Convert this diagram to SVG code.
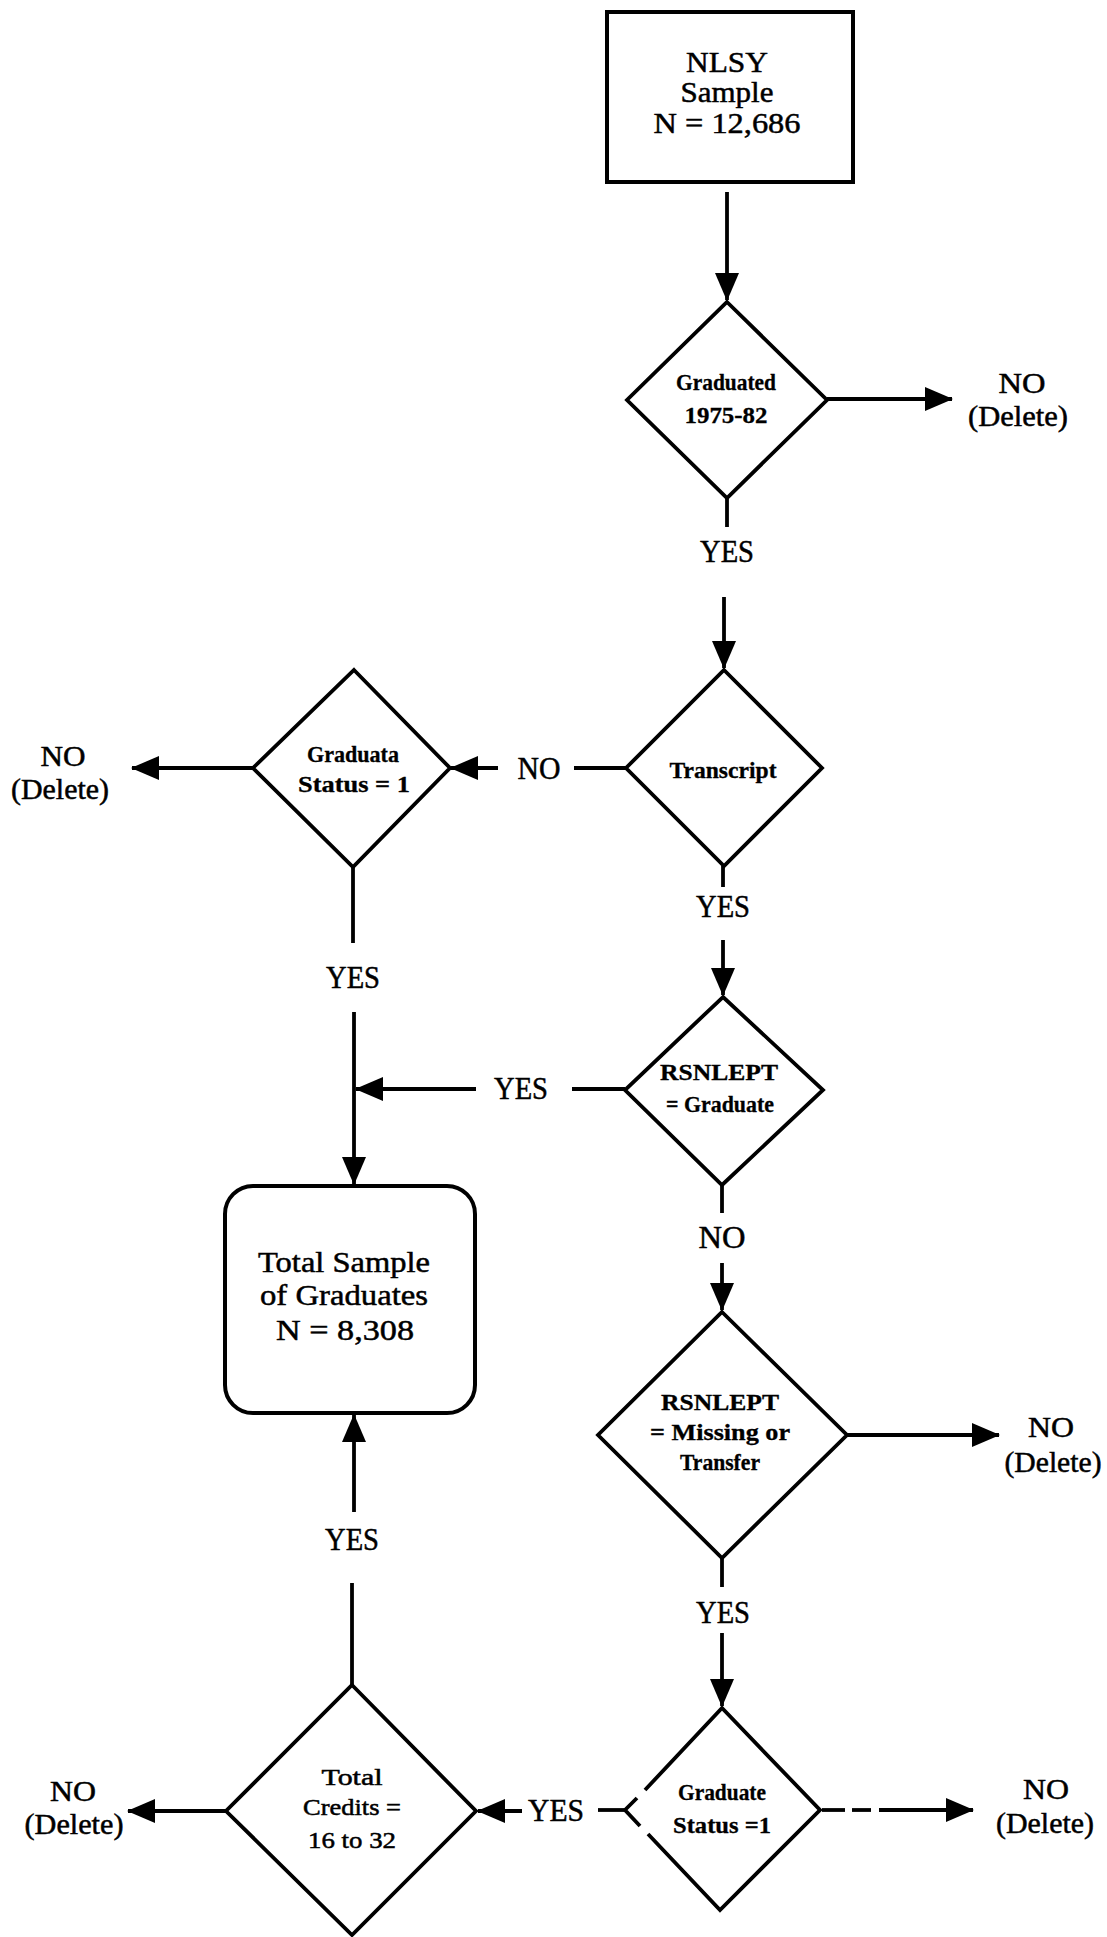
<svg xmlns="http://www.w3.org/2000/svg" width="1107" height="1937" viewBox="0 0 1107 1937">
<style>
  .shape { fill: #ffffff; stroke: #000000; stroke-width: 3.8; stroke-linejoin: miter; }
  .box { fill: #ffffff; stroke: #000000; stroke-width: 4; }
  .ln { fill: none; stroke: #000000; stroke-width: 3.8; }
  .arr { fill: none; stroke: #000000; stroke-width: 3.8; marker-end: url(#ah); }
  text { font-family: "Liberation Serif", "Times New Roman", serif; fill: #000000; text-anchor: middle; stroke: #000000; stroke-width: 0.5; }
  .lbl { font-size: 31px; }
  .del { font-size: 29px; }
  .boxt { font-size: 30px; }
  .dt { font-size: 23px; font-weight: bold; stroke-width: 0.3; }
  .dn { font-size: 23px; }
</style>
<defs>
  <marker id="ah" markerUnits="userSpaceOnUse" markerWidth="28" markerHeight="24" refX="27" refY="12" orient="auto">
    <path d="M0,0 L28,12 L0,24 Z" fill="#000000"/>
  </marker>
</defs>
<rect width="1107" height="1937" fill="#ffffff"/>

<g id="connectors">
  <line class="arr" x1="727" y1="192" x2="727" y2="300"/>
  <line class="arr" x1="827" y1="399" x2="952" y2="399"/>
  <line class="ln" x1="727" y1="498" x2="727" y2="527"/>
  <line class="arr" x1="724" y1="597" x2="724" y2="668"/>
  <line class="ln" x1="723" y1="866" x2="723" y2="887"/>
  <line class="arr" x1="723" y1="940" x2="723" y2="995"/>
  <line class="ln" x1="626" y1="768" x2="574" y2="768"/>
  <line class="arr" x1="498" y1="768" x2="451" y2="768"/>
  <line class="arr" x1="253" y1="768" x2="132" y2="768"/>
  <line class="ln" x1="353" y1="867" x2="353" y2="943"/>
  <line class="arr" x1="354" y1="1012" x2="354" y2="1184"/>
  <line class="ln" x1="625" y1="1089" x2="572" y2="1089"/>
  <line class="arr" x1="476" y1="1089" x2="356" y2="1089"/>
  <line class="ln" x1="722" y1="1185" x2="722" y2="1213"/>
  <line class="arr" x1="722" y1="1263" x2="722" y2="1310"/>
  <line class="arr" x1="847" y1="1435" x2="999" y2="1435"/>
  <line class="ln" x1="722" y1="1558" x2="722" y2="1587"/>
  <line class="arr" x1="722" y1="1633" x2="722" y2="1706"/>
  <line class="ln" x1="822" y1="1810" x2="845" y2="1810"/>
  <line class="ln" x1="852" y1="1810" x2="871" y2="1810"/>
  <line class="arr" x1="879" y1="1810" x2="973" y2="1810"/>
  <line class="ln" x1="625" y1="1810" x2="598" y2="1810"/>
  <line class="arr" x1="522" y1="1811" x2="478" y2="1811"/>
  <line class="arr" x1="226" y1="1811" x2="128" y2="1811"/>
  <line class="ln" x1="352" y1="1685" x2="352" y2="1583"/>
  <line class="arr" x1="354" y1="1512" x2="354" y2="1415"/>

  <text class="lbl" x="727" y="562" textLength="54" lengthAdjust="spacingAndGlyphs">YES</text>
  <text class="lbl" x="723" y="917" textLength="54" lengthAdjust="spacingAndGlyphs">YES</text>
  <text class="lbl" x="722" y="1248" textLength="47" lengthAdjust="spacingAndGlyphs">NO</text>
  <text class="lbl" x="723" y="1623" textLength="54" lengthAdjust="spacingAndGlyphs">YES</text>
  <text class="lbl" x="353" y="988" textLength="54" lengthAdjust="spacingAndGlyphs">YES</text>
  <text class="lbl" x="521" y="1099" textLength="54" lengthAdjust="spacingAndGlyphs">YES</text>
  <text class="lbl" x="539" y="779" textLength="43" lengthAdjust="spacingAndGlyphs">NO</text>
  <text class="lbl" x="556" y="1821" textLength="56" lengthAdjust="spacingAndGlyphs">YES</text>
  <text class="lbl" x="352" y="1550" textLength="54" lengthAdjust="spacingAndGlyphs">YES</text>

  <text class="del" x="1022" y="393" textLength="47" lengthAdjust="spacingAndGlyphs">NO</text>
  <text class="del" x="1018" y="426" textLength="100" lengthAdjust="spacingAndGlyphs">(Delete)</text>
  <text class="del" x="63" y="766" textLength="45" lengthAdjust="spacingAndGlyphs">NO</text>
  <text class="del" x="60" y="799" textLength="98" lengthAdjust="spacingAndGlyphs">(Delete)</text>
  <text class="del" x="1051" y="1437" textLength="46" lengthAdjust="spacingAndGlyphs">NO</text>
  <text class="del" x="1053" y="1472" textLength="97" lengthAdjust="spacingAndGlyphs">(Delete)</text>
  <text class="del" x="73" y="1801" textLength="46" lengthAdjust="spacingAndGlyphs">NO</text>
  <text class="del" x="74" y="1834" textLength="99" lengthAdjust="spacingAndGlyphs">(Delete)</text>
  <text class="del" x="1046" y="1799" textLength="46" lengthAdjust="spacingAndGlyphs">NO</text>
  <text class="del" x="1045" y="1833" textLength="98" lengthAdjust="spacingAndGlyphs">(Delete)</text>
</g>

<g id="nlsy-sample">
  <rect class="box" x="607" y="12" width="246" height="170"/>
  <text class="boxt" x="727" y="72" textLength="82" lengthAdjust="spacingAndGlyphs">NLSY</text>
  <text class="boxt" x="727" y="102" textLength="93" lengthAdjust="spacingAndGlyphs">Sample</text>
  <text class="boxt" x="727" y="133" textLength="147" lengthAdjust="spacingAndGlyphs">N = 12,686</text>
</g>

<g id="graduated-1975-82">
  <polygon class="shape" points="727,302 827,400 727,498 627,400"/>
  <text class="dt" x="726" y="390" textLength="100" lengthAdjust="spacingAndGlyphs">Graduated</text>
  <text class="dt" x="726" y="423" textLength="83" lengthAdjust="spacingAndGlyphs">1975-82</text>
</g>

<g id="transcript">
  <polygon class="shape" points="724,670 822,768 724,866 626,768"/>
  <text class="dt" x="723" y="778" textLength="107" lengthAdjust="spacingAndGlyphs">Transcript</text>
</g>

<g id="graduata-status">
  <polygon class="shape" points="354,670 450,768 353,867 253,768"/>
  <text class="dt" x="353" y="762" textLength="92" lengthAdjust="spacingAndGlyphs">Graduata</text>
  <text class="dt" x="354" y="792" textLength="112" lengthAdjust="spacingAndGlyphs">Status = 1</text>
</g>

<g id="rsnlept-graduate">
  <polygon class="shape" points="723,997 823,1090 722,1185 625,1090"/>
  <text class="dt" x="719" y="1080" textLength="118" lengthAdjust="spacingAndGlyphs">RSNLEPT</text>
  <text class="dt" x="720" y="1112" textLength="108" lengthAdjust="spacingAndGlyphs">= Graduate</text>
</g>

<g id="total-sample">
  <rect class="box" x="225" y="1186" width="250" height="227" rx="28" ry="28"/>
  <text class="boxt" x="344" y="1272" textLength="172" lengthAdjust="spacingAndGlyphs">Total Sample</text>
  <text class="boxt" x="344" y="1305" textLength="168" lengthAdjust="spacingAndGlyphs">of Graduates</text>
  <text class="boxt" x="345" y="1340" textLength="138" lengthAdjust="spacingAndGlyphs">N = 8,308</text>
</g>

<g id="rsnlept-missing">
  <polygon class="shape" points="722,1312 847,1435 722,1558 598,1435"/>
  <text class="dt" x="720" y="1410" textLength="118" lengthAdjust="spacingAndGlyphs">RSNLEPT</text>
  <text class="dt" x="720" y="1440" textLength="140" lengthAdjust="spacingAndGlyphs">= Missing or</text>
  <text class="dt" x="720" y="1470" textLength="80" lengthAdjust="spacingAndGlyphs">Transfer</text>
</g>

<g id="graduate-status">
  <path class="ln" d="M645,1790 L722,1708 L820,1810 L720,1910 L648,1834 M640,1826 L625,1810 L637,1798" fill="#ffffff"/>
  <text class="dt" x="722" y="1800" textLength="88" lengthAdjust="spacingAndGlyphs">Graduate</text>
  <text class="dt" x="722" y="1833" textLength="98" lengthAdjust="spacingAndGlyphs">Status =1</text>
</g>

<g id="total-credits">
  <polygon class="shape" points="352,1685 476,1811 352,1935 226,1811"/>
  <text class="dn" x="352" y="1785" textLength="61" lengthAdjust="spacingAndGlyphs">Total</text>
  <text class="dn" x="352" y="1815" textLength="98" lengthAdjust="spacingAndGlyphs">Credits =</text>
  <text class="dn" x="352" y="1848" textLength="88" lengthAdjust="spacingAndGlyphs">16 to 32</text>
</g>
</svg>
